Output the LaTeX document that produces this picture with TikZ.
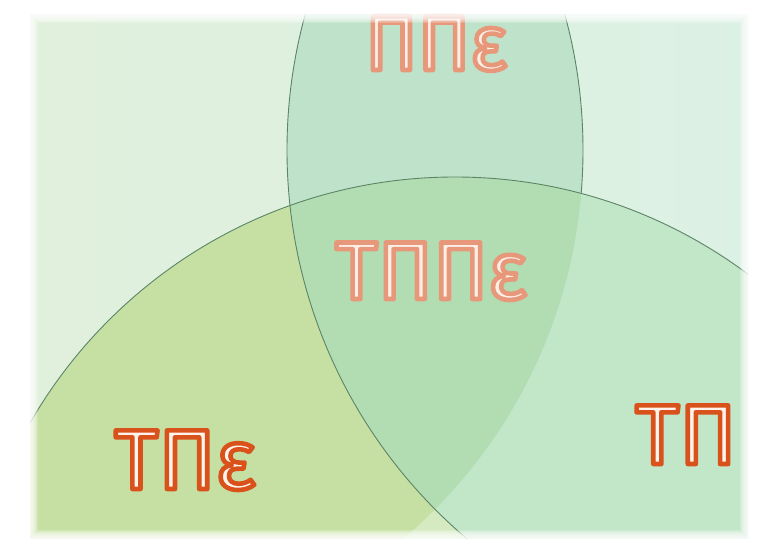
\documentclass[tikz,border=0pt]{standalone}
\usepackage{fontspec}
\usepackage{tikz}
\usetikzlibrary{calc}
\newfontfamily\vennfont{Fira Sans}
\definecolor{bgleft}{HTML}{E0F0DC}
\definecolor{bgright}{HTML}{DCF1E5}
\definecolor{lenscol}{HTML}{BEE3CA}
\definecolor{wedgecol}{HTML}{D5EAC0}
\definecolor{yellowcol}{HTML}{C6E0A4}
\definecolor{bluecol}{HTML}{C1E6C8}
\definecolor{centrecol}{HTML}{B2DCB2}
\definecolor{setgray}{HTML}{5C8466}
\definecolor{strongcore}{HTML}{FFF3EC}
\definecolor{softcore}{HTML}{FDEEE6}
% outlined text: fill colour #2, stroke rgb #1
\newcommand{\outlinetext}[3]{\textcolor{#2}{\special{pdf:code #1 RG 2 Tr 4.6 w 1 j}#3\special{pdf:code 0 Tr}}}
\newcommand{\strongtext}[1]{\outlinetext{0.851 0.322 0.110}{strongcore}{#1}}
\newcommand{\softtext}[1]{\outlinetext{0.910 0.596 0.478}{softcore}{#1}}
\tikzset{
   setline/.style={draw=setgray, line width=0.9pt},
   vennlabel/.style={font=\vennfont\fontsize{82}{90}\selectfont, anchor=base, inner sep=0pt},
}

\begin{document}
\begin{tikzpicture}[x=1pt,y=-1pt]
  \useasboundingbox (0,0) rectangle (769,548);
  \fill[white] (0,0) rectangle (769,548);
  \coordinate (bc) at (455,667);
  \coordinate (lc) at (797,150);
  \coordinate (mc) at (73,150);
  \begin{scope}
    \clip (30,15) rectangle (748,538);
    \shade[left color=bgleft, right color=bgright] (0,0) rectangle (769,548);
    \begin{scope}
      \clip (mc) circle (510pt);
      \fill[lenscol] (lc) circle (510pt);
    \end{scope}
    \draw[setline] (mc) circle (510pt);
    \fill[wedgecol] (bc) circle (490pt);
    \begin{scope}
      \clip (bc) circle (490pt);
      \fill[yellowcol] (mc) circle (510pt);
      \fill[bluecol] (lc) circle (510pt);
      \clip (mc) circle (510pt);
      \fill[centrecol] (lc) circle (510pt);
    \end{scope}
    \draw[setline] (bc) circle (490pt);
    \draw[setline] (lc) circle (510pt);
  \end{scope}
  \node[vennlabel, font=\vennfont\fontsize{78}{86}\selectfont] (ppe) at (436,70) {\softtext{ΠΠε}};
  \node[vennlabel] (tppe) at (431,299) {\softtext{ΤΠΠε}};
  \node[vennlabel, font=\vennfont\fontsize{85}{90}\selectfont] (tpe) at (185,489) {\strongtext{ΤΠε}};
  \node[vennlabel, font=\vennfont\fontsize{85}{90}\selectfont] (tp) at (686,464) {\strongtext{ΤΠ}};
  % soft border
  \foreach \w in {2,4,...,16}
    \draw[white, opacity=.2, line width=\w pt] (30,15) rectangle (748,538);
\end{tikzpicture}
\end{document}
